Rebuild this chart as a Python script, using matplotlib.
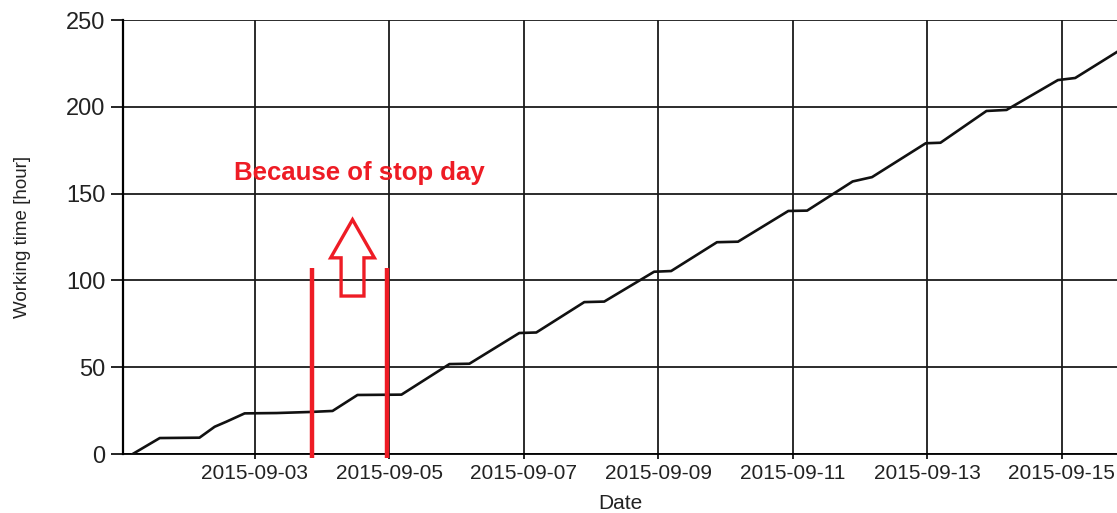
import matplotlib
matplotlib.use("Agg")
import matplotlib.pyplot as plt
import matplotlib.dates as mdates
from matplotlib.patches import FancyArrow
import pandas as pd

plt.rcParams['font.family'] = ['Liberation Sans', 'DejaVu Sans']

# Cumulative working time
times = [
    "2015-09-01 04:30", "2015-09-01 14:10", "2015-09-02 04:20", "2015-09-02 09:45",
    "2015-09-02 13:55", "2015-09-02 20:27", "2015-09-03 07:51", "2015-09-03 19:36",
    "2015-09-04 03:49", "2015-09-04 12:43", "2015-09-05 04:25", "2015-09-05 21:32",
    "2015-09-06 04:39", "2015-09-06 22:28", "2015-09-07 04:32", "2015-09-07 21:39",
    "2015-09-08 04:46", "2015-09-08 22:35", "2015-09-09 04:39", "2015-09-09 21:00",
    "2015-09-10 04:30", "2015-09-10 22:28", "2015-09-11 05:10", "2015-09-11 21:25",
    "2015-09-12 04:20", "2015-09-12 23:30", "2015-09-13 04:45", "2015-09-13 21:10",
    "2015-09-14 04:20", "2015-09-14 22:40", "2015-09-15 04:50", "2015-09-15 19:45",
]
hours = [
    0.0, 9.2, 9.4, 15.7,
    18.6, 23.4, 23.6, 24.2,
    24.8, 34.0, 34.2, 51.8,
    52.0, 69.7, 70.0, 87.5,
    87.8, 105.0, 105.4, 122.0,
    122.3, 140.0, 140.2, 157.0,
    159.5, 179.0, 179.3, 197.6,
    198.2, 215.4, 216.6, 231.6,
]

# Red markers around the stop day and the annotation
stop_lines = ["2015-09-03 20:40", "2015-09-04 23:25"]
stop_top, stop_bottom = 107, -2.5
note_text = "Because of stop day"
red = "#ee1c25"

t = pd.to_datetime(times)
x_start = pd.Timestamp("2015-09-01 01:00")
x_end = pd.Timestamp("2015-09-15 19:45")

fig = plt.figure(figsize=(11.17, 5.13), dpi=100)
ax = fig.add_axes([0.110, 0.115, 0.890, 0.846])

ax.plot(t, hours, color="#111111", linewidth=1.9, zorder=3)

ax.set_xlim(x_start, x_end)
ax.set_ylim(0, 250)
ax.set_yticks([0, 50, 100, 150, 200, 250])
ax.xaxis.set_major_locator(mdates.DayLocator(bymonthday=[3, 5, 7, 9, 11, 13, 15]))
ax.xaxis.set_major_formatter(mdates.DateFormatter("%Y-%m-%d"))

ax.grid(True, color="#1a1a1a", linewidth=1.3)
ax.set_axisbelow(True)
for s in ["top", "right"]:
    ax.spines[s].set_visible(False)
ax.spines["left"].set_linewidth(1.6)
ax.spines["bottom"].set_linewidth(1.3)

ax.tick_params(axis="y", length=8.5, width=1.2, pad=4, labelsize=17, labelcolor="#222222")
ax.tick_params(axis="x", length=3.5, width=1.2, pad=4, labelsize=15, labelcolor="#222222")

ax.set_ylabel("Working time [hour]", fontsize=13.5, color="#222222", labelpad=25)
ax.set_xlabel("Date", fontsize=15, color="#222222", labelpad=7.5)

# red vertical markers
for d in stop_lines:
    ax.plot([pd.Timestamp(d), pd.Timestamp(d)], [stop_bottom, stop_top],
            color=red, linewidth=3.2, clip_on=False, zorder=4, solid_capstyle="butt")

# hollow up arrow between the markers
x_mid = mdates.date2num(pd.Timestamp("2015-09-04 10:57"))
arrow = FancyArrow(x_mid, 91, 0, 44, width=0.34, head_width=0.65, head_length=22,
                   length_includes_head=True, fill=False, edgecolor=red, linewidth=2.4,
                   zorder=4)
ax.add_patch(arrow)

ax.text(pd.Timestamp("2015-09-02 16:40"), 162, note_text, color=red, fontsize=18.5,
        fontweight="bold", va="center", ha="left", zorder=5)

fig.savefig("out.png", dpi=100)
